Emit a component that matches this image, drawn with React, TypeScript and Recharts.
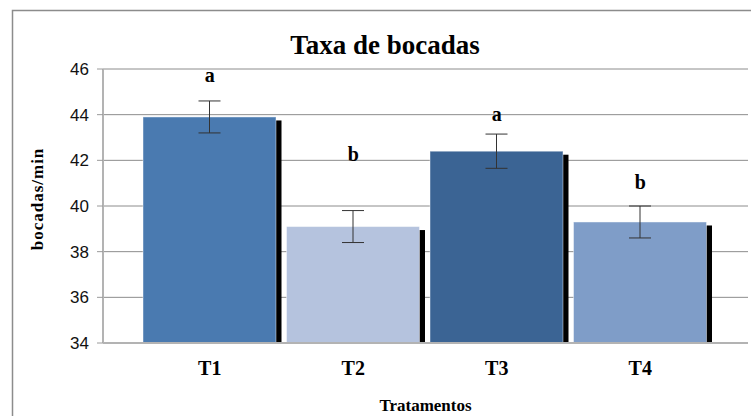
import React from 'react';
import { ComposedChart, Bar, XAxis, YAxis, CartesianGrid, ErrorBar, Cell, Scatter } from 'recharts';

const categories = ['T1', 'T2', 'T3', 'T4'];
const meanValues = [43.9, 39.1, 42.4, 39.3];
const errorValues = [0.7, 0.7, 0.75, 0.7];
const letters = ['a', 'b', 'a', 'b'];
const letterHeights = [45.7, 42.25, 44.0, 41.0];
const barColors = ['#4A7AB0', '#B5C3DE', '#3B6494', '#7F9DC8'];
const yTicks = [34, 36, 38, 40, 42, 44, 46];

const data = categories.map((name, i) => ({
  name,
  mean: meanValues[i],
  err: errorValues[i],
  letter: letters[i],
  letterY: letterHeights[i],
}));

// bar with the black drop shadow on the right / bottom
const ShadowBar = (props: any) => {
  const { x, y, width, height, fill } = props;
  if (width == null || height == null) return null;
  return (
    <g>
      <rect x={x + 1} y={y + 3.5} width={width + 4.5} height={height - 2} fill="#000" />
      <rect x={x} y={y} width={width} height={height} fill={fill} stroke="#fff" strokeOpacity={0.45} strokeWidth={1} />
    </g>
  );
};

const LetterMark = (props: any) => {
  const { cx, cy, payload } = props;
  return (
    <text x={cx} y={cy + 6} textAnchor="middle" fontFamily="'Liberation Serif', serif" fontWeight="bold" fontSize={20} fill="#000">
      {payload.letter}
    </text>
  );
};

const YTitle = ({ viewBox }: any) => {
  const cy = viewBox.y + viewBox.height / 2 - 7;
  return (
    <text
      x={43}
      y={cy}
      transform={`rotate(-90, 43, ${cy})`}
      textAnchor="middle"
      fontFamily="'Liberation Serif', serif"
      fontWeight="bold"
      fontSize={17}
      letterSpacing={1}
      fill="#000"
    >
      bocadas/min
    </text>
  );
};

const XTitle = ({ viewBox }: any) => (
  <text
    x={viewBox.x + viewBox.width / 2}
    y={411}
    textAnchor="middle"
    fontFamily="'Liberation Serif', serif"
    fontWeight="bold"
    fontSize={17}
    fill="#000"
  >
    Tratamentos
  </text>
);

export default function App() {
  return (
    <div style={{ position: 'absolute', left: 0, top: 0, width: 751, height: 416, overflow: 'hidden', background: '#fff' }}>
      <svg width={751} height={416} style={{ position: 'absolute', left: 0, top: 0 }}>
        <rect x={12.5} y={10.5} width={760} height={420} fill="none" stroke="#8c8c8c" strokeWidth={1.5} />
        <text x={385} y={54} textAnchor="middle" fontFamily="'Liberation Serif', serif" fontWeight="bold" fontSize={27} fill="#000">
          Taxa de bocadas
        </text>
      </svg>
      <div style={{ position: 'absolute', left: 0, top: 0 }}>
        <ComposedChart width={751} height={416} data={data} margin={{ top: 69, right: 3, bottom: 0, left: 0 }}>
          <CartesianGrid vertical={false} stroke="#8c8c8c" />
          <XAxis
            dataKey="name"
            height={73}
            padding={{ left: 35, right: 36 }}
            axisLine={{ stroke: '#b3b3b3', strokeWidth: 2 }}
            tickLine={false}
            tickSize={0}
            tickMargin={18}
            tick={{ fontFamily: "'Liberation Serif', serif", fontWeight: 'bold', fontSize: 20, fill: '#000' }}
            label={<XTitle />}
          />
          <YAxis
            width={103}
            domain={[34, 46]}
            ticks={yTicks}
            allowDataOverflow
            axisLine={{ stroke: '#b3b3b3', strokeWidth: 2 }}
            tickLine={{ stroke: '#9a9a9a' }}
            tickSize={6}
            tickMargin={8}
            tick={{ fontFamily: "'Liberation Sans', Arial, sans-serif", fontSize: 17, fill: '#111' }}
            label={<YTitle />}
          />
          <Bar dataKey="mean" barSize={133} shape={<ShadowBar />} isAnimationActive={false}>
            {data.map((d, i) => (
              <Cell key={d.name} fill={barColors[i]} />
            ))}
            <ErrorBar dataKey="err" width={11} stroke="#333" strokeWidth={1} direction="y" />
          </Bar>
          <Scatter dataKey="letterY" shape={<LetterMark />} isAnimationActive={false} />
        </ComposedChart>
      </div>
    </div>
  );
}
